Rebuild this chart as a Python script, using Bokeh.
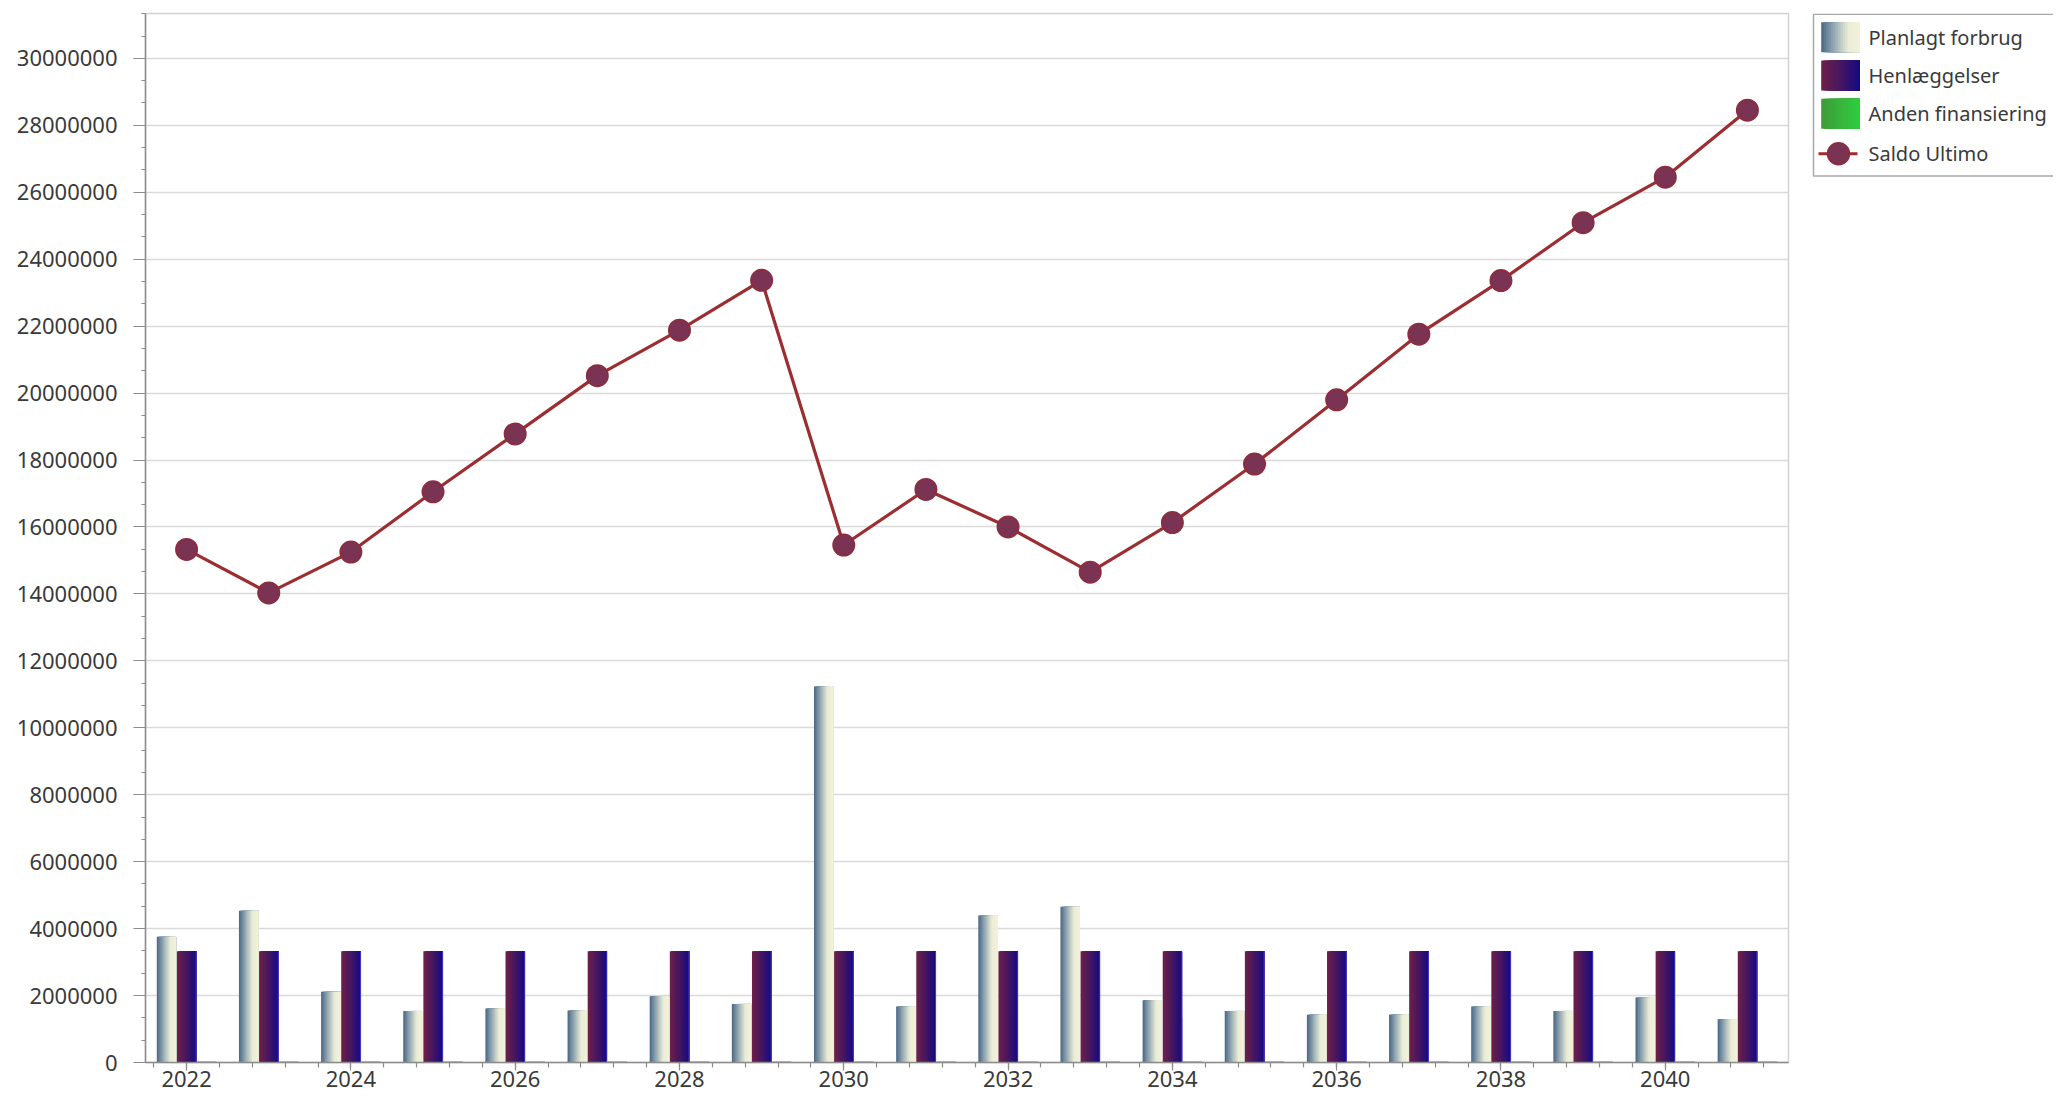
import numpy as np
from bokeh.plotting import figure
from bokeh.layouts import row
from bokeh.models import Range1d, FixedTicker, BasicTickFormatter
from bokeh.core.properties import value
from bokeh.embed import file_html
from bokeh.resources import INLINE

# ---------------- data ----------------
years = [2022, 2023, 2024, 2025, 2026, 2027, 2028, 2029, 2030, 2031,
         2032, 2033, 2034, 2035, 2036, 2037, 2038, 2039, 2040, 2041]
planlagt_forbrug = [3760000, 4530000, 2110000, 1540000, 1610000, 1550000, 1980000, 1750000,
                    11230000, 1670000, 4390000, 4650000, 1860000, 1540000, 1430000, 1430000,
                    1670000, 1540000, 1940000, 1290000]
henlaeggelser = [3320000, 3320000, 3320000, 3320000, 3320000, 3320000, 3320000, 3320000,
                 3320000, 3320000, 3320000, 3320000, 3320000, 3320000, 3320000, 3320000,
                 3320000, 3320000, 3320000, 3320000]
anden_finansiering = [0, 0, 0, 0, 0, 0, 0, 0, 0, 0, 0, 0, 0, 0, 0, 0, 0, 0, 0, 0]
saldo_ultimo = [15330000, 14030000, 15250000, 17050000, 18780000, 20520000, 21880000, 23370000,
                15460000, 17120000, 16000000, 14650000, 16130000, 17880000, 19800000, 21760000,
                23360000, 25090000, 26450000, 28450000]
series_names = ["Planlagt forbrug", "Henlæggelser", "Anden finansiering", "Saldo Ultimo"]
x_major_ticks = [2022, 2024, 2026, 2028, 2030, 2032, 2034, 2036, 2038, 2040]

# ---------------- style ----------------
FONT = "Noto Sans"
TXT = "#3a3a3a"
AXIS = "#8c8c8c"

grad_planlagt = [(0.0, "#486683"), (0.3, "#8ea3b0"), (0.7, "#eaedd7"), (1.0, "#f3f1da")]
grad_henl = [(0.0, "#6e2146"), (0.5, "#461661"), (1.0, "#140a84")]
grad_anden = [(0.0, "#3f9a3a"), (1.0, "#2fcf3f")]


def hex2rgb(h):
    h = h.lstrip("#")
    return np.array([int(h[i:i + 2], 16) for i in (0, 2, 4)], dtype=float)


def grad_color(stops, t):
    for (t0, c0), (t1, c1) in zip(stops[:-1], stops[1:]):
        if t <= t1:
            f = 0 if t1 == t0 else (t - t0) / (t1 - t0)
            c = hex2rgb(c0) * (1 - f) + hex2rgb(c1) * f
            return "#%02x%02x%02x" % tuple(int(round(v)) for v in c)
    return stops[-1][1]


NSL = 16
BAR_W = 0.235
yrs = np.array(years, dtype=float)

FIG_H = 1095
TOP_B = 13
BOT_B = 33

p = figure(width=1800, height=FIG_H, output_backend="svg", toolbar_location=None,
           x_range=Range1d(2021.5, 2041.5), y_range=Range1d(0, 31340000),
           min_border_left=145, min_border_right=12, min_border_top=TOP_B, min_border_bottom=BOT_B)
p.background_fill_color = "white"
p.border_fill_color = "white"
p.outline_line_color = "#d2d2d2"
p.outline_line_width = 1.5

# gradient bars: stacked slices, each reaching to the bar's right edge (no seams)
for vals, off, stops in [(planlagt_forbrug, -0.245, grad_planlagt),
                         (henlaeggelser, 0.0, grad_henl)]:
    v = np.array(vals, dtype=float)
    sw = BAR_W / NSL
    right = yrs + off + BAR_W / 2
    for k in range(NSL):
        t = (k + 0.5) / NSL
        col = grad_color(stops, t)
        left = yrs + off - BAR_W / 2 + k * sw
        p.vbar(x=(left + right) / 2, width=right[0] - left[0], top=v, bottom=0,
               fill_color=col, line_color=None)

# Henlæggelser bright right edge
p.segment(x0=yrs + BAR_W / 2, x1=yrs + BAR_W / 2, y0=0, y1=np.array(henlaeggelser, dtype=float),
          line_color="#5a5af0", line_width=1.2, line_alpha=0.6)

# Anden finansiering (zero-height bars appear as a green line)
af = np.array(anden_finansiering, dtype=float)
p.segment(x0=yrs + 0.245 - BAR_W / 2, x1=yrs + 0.245 + BAR_W / 2, y0=af, y1=af,
          line_color="#36b53a", line_width=2)

# Saldo Ultimo line
p.line(years, saldo_ultimo, line_color="#9c2e32", line_width=3.2)
p.scatter(years, saldo_ultimo, size=21.5, fill_color="#7b3354", line_color="#8e2c3c", line_width=1.5)

# axes
p.xaxis.ticker = FixedTicker(ticks=x_major_ticks,
                             minor_ticks=[round(2021.6 + 0.4 * i, 1) for i in range(50)])
p.yaxis.ticker = FixedTicker(ticks=list(range(0, 32000001, 2000000)),
                             minor_ticks=[int(round(i * 2000000 / 3)) for i in range(48)])
p.yaxis.formatter = BasicTickFormatter(use_scientific=False)
for ax in (p.xaxis[0], p.yaxis[0]):
    ax.axis_line_color = AXIS
    ax.axis_line_width = 1.5
    ax.major_tick_line_color = AXIS
    ax.minor_tick_line_color = AXIS
    ax.major_tick_line_width = 1.2
    ax.minor_tick_line_width = 1.2
    ax.major_tick_in = 0
    ax.minor_tick_in = 0
    ax.major_label_text_font = FONT
    ax.major_label_text_font_size = "22px"
    ax.major_label_text_color = TXT
p.yaxis.major_tick_out = 12
p.yaxis.minor_tick_out = 4
p.yaxis.major_label_standoff = 16
p.xaxis.major_tick_out = 8
p.xaxis.minor_tick_out = 5
p.xaxis.major_label_standoff = 0

p.xgrid.grid_line_color = None
p.ygrid.grid_line_color = "#dadada"
p.ygrid.grid_line_width = 1.5

# ---------------- legend panel ----------------
lg = figure(width=253, height=FIG_H, output_backend="svg", toolbar_location=None,
            x_range=Range1d(0, 253), y_range=Range1d(FIG_H - BOT_B, TOP_B),
            min_border=0, min_border_left=0, min_border_right=0,
            min_border_top=TOP_B, min_border_bottom=BOT_B)
lg.axis.visible = False
lg.grid.visible = False
lg.outline_line_color = None
lg.background_fill_color = "white"
lg.border_fill_color = "white"

lg.quad(left=[13], right=[300], top=[13.8], bottom=[175.5], fill_color="white",
        line_color="#a9a9a9", line_width=1.5)

sw_l, sw_r = 20.7, 59.3
rows_y = [(21.7, 51.7), (60.0, 90.0), (98.3, 128.3)]
for (t0, b0), stops in zip(rows_y, [grad_planlagt, grad_henl, grad_anden]):
    n = 16
    w = (sw_r - sw_l) / n
    lefts = [sw_l + i * w for i in range(n)]
    cols = [grad_color(stops, (i + 0.5) / n) for i in range(n)]
    lg.quad(left=lefts, right=[sw_r] * n, top=[t0] * n, bottom=[b0] * n,
            fill_color=cols, line_color=None)
lg.segment(x0=[18], x1=[57], y0=[153.3], y1=[153.3], line_color="#9c2e32", line_width=3)
lg.scatter([38], [153.3], size=22, fill_color="#7b3354", line_color="#8e2c3c", line_width=1.5)

lg.text(x=[68, 68, 68, 68], y=[36.7, 75.0, 113.3, 153.3], text=series_names,
        text_font=value(FONT), text_font_size="20px", text_color=TXT,
        text_baseline="middle", text_align="left")

layout = row(p, lg)
open("out.html", "w").write(file_html(layout, INLINE))
